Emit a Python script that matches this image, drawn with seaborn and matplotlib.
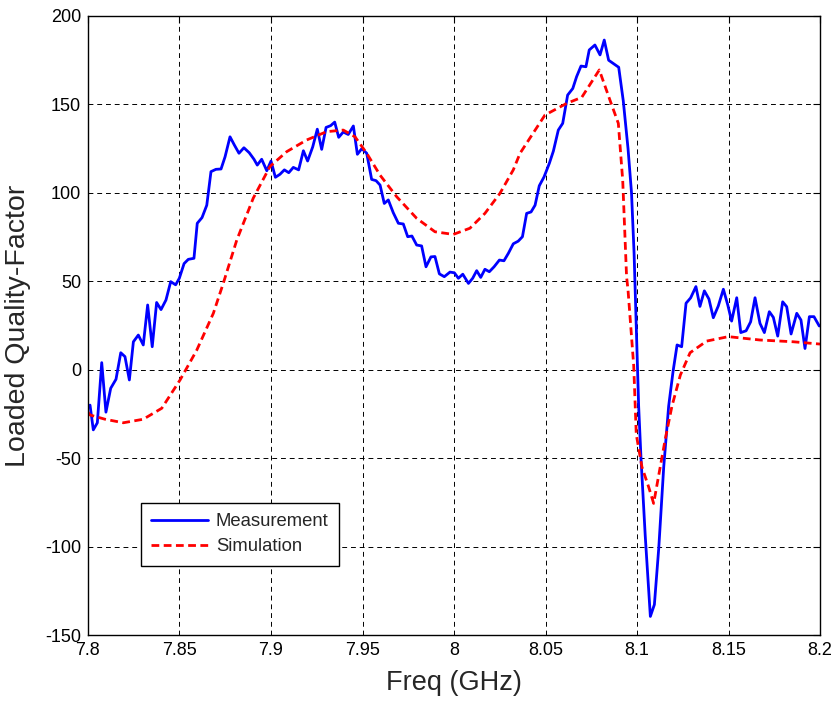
import matplotlib
matplotlib.use("Agg")
import matplotlib.pyplot as plt
import seaborn as sns
import pandas as pd
import numpy as np
from matplotlib.ticker import FixedLocator, FixedFormatter

# ---------------- data ----------------
meas_freq = [7.8011, 7.8029, 7.8051, 7.8075, 7.8098, 7.8124, 7.8153, 7.8179, 7.8202, 7.8226,
             7.8248, 7.8275, 7.8302, 7.8326, 7.8351, 7.8375, 7.8399, 7.8426, 7.8452, 7.8479,
             7.8499, 7.8525, 7.8548, 7.8579, 7.8597, 7.8623, 7.8649, 7.8672, 7.8699, 7.8727,
             7.8749, 7.8776, 7.8800, 7.8825, 7.8852, 7.8881, 7.8907, 7.8925, 7.8949, 7.8977,
             7.9000, 7.9024, 7.9049, 7.9073, 7.9097, 7.9122, 7.9151, 7.9177, 7.9200, 7.9228,
             7.9253, 7.9277, 7.9301, 7.9326, 7.9348, 7.9370, 7.9395, 7.9422, 7.9450, 7.9472,
             7.9496, 7.9523, 7.9550, 7.9574, 7.9596, 7.9619, 7.9641, 7.9668, 7.9696, 7.9723,
             7.9747, 7.9770, 7.9796, 7.9823, 7.9847, 7.9874, 7.9896, 7.9920, 7.9947, 7.9978,
             8.0002, 8.0024, 8.0048, 8.0079, 8.0102, 8.0124, 8.0146, 8.0169, 8.0193, 8.0219,
             8.0248, 8.0273, 8.0297, 8.0324, 8.0351, 8.0374, 8.0397, 8.0421, 8.0443, 8.0466,
             8.0492, 8.0521, 8.0543, 8.0570, 8.0594, 8.0621, 8.0649, 8.0670, 8.0694, 8.0721,
             8.0739, 8.0770, 8.0798, 8.0821, 8.0845, 8.0870, 8.0900, 8.0925, 8.0951, 8.0970,
             8.0984, 8.0996, 8.1009, 8.1022, 8.1045, 8.1073, 8.1095, 8.1119, 8.1146, 8.1173,
             8.1197, 8.1219, 8.1244, 8.1268, 8.1293, 8.1322, 8.1344, 8.1368, 8.1393, 8.1417,
             8.1444, 8.1472, 8.1496, 8.1517, 8.1545, 8.1567, 8.1596, 8.1621, 8.1645, 8.1672,
             8.1696, 8.1723, 8.1745, 8.1769, 8.1796, 8.1818, 8.1842, 8.1873, 8.1896, 8.1918,
             8.1942, 8.1967, 8.1996]
meas_q = [-20, -34, -30, 4, -24, -10.5, -5.4, 9.6, 7.4, -5.8,
          15.8, 19.6, 14, 36.6, 13, 38, 34, 39.4, 49.8, 48,
          51.7, 60, 62.4, 63, 82.8, 86, 93, 112, 113.3, 113.5,
          120.4, 131.7, 127, 122.4, 125.5, 122.7, 119, 115.7, 119, 112.5,
          118, 108.8, 110.5, 113, 111.4, 114.4, 113, 123.8, 118, 126,
          136, 124.6, 137, 138, 140, 131.4, 134.4, 133, 137.8, 121.8,
          125, 122.4, 107.6, 106.9, 104.4, 94, 96, 88.8, 82.8, 82.4,
          75.2, 75.6, 70.5, 70, 58.2, 63.8, 64, 54.2, 52.6, 55.2,
          54.8, 51.7, 54, 48.8, 51.7, 56, 52.2, 56.8, 55.4, 58.2,
          62, 61.6, 65.8, 71.2, 72.7, 75.2, 88.4, 89.2, 93, 104,
          109, 116.7, 123.6, 135.5, 139.3, 155.3, 159, 165.7, 171.7, 171.3,
          180.8, 183.6, 178, 186.4, 175, 173.2, 171, 152, 125, 100,
          66, 25.2, -20.6, -50.4, -93.9, -139.5, -132.8, -100.7, -55, -20.6,
          -1, 14, 13, 37.6, 40.6, 47, 35.8, 44.6, 40, 29.4,
          36, 45.5, 36.6, 27.5, 40.7, 21, 22, 27.1, 40.7, 26.2,
          21, 32.8, 29.6, 19, 38.4, 35.6, 20.2, 31.9, 28.1, 12,
          30, 30, 24.7]

sim_freq = [7.8000, 7.8011, 7.8093, 7.8193, 7.8302, 7.8403, 7.8503, 7.8594, 7.8685, 7.8739,
            7.8813, 7.8903, 7.8995, 7.9086, 7.9195, 7.9304, 7.9395, 7.9459, 7.9523, 7.9596,
            7.9687, 7.9796, 7.9896, 7.9996, 8.0087, 8.0169, 8.0251, 8.0324, 8.0361, 8.0497,
            8.0616, 8.0698, 8.0794, 8.0852, 8.0898, 8.0922, 8.0943, 8.0951, 8.0982, 8.0996,
            8.1027, 8.1064, 8.1091, 8.1119, 8.1155, 8.1191, 8.1237, 8.1290, 8.1381, 8.1499,
            8.1672, 8.1854, 8.2000]
sim_q = [-24, -25.6, -28, -30, -28, -21.8, -5.8, 11, 31.9, 48.8,
         73.3, 97, 115, 123.3, 129.9, 134.6, 135.5, 131.7, 122.4, 110,
         97.8, 85.6, 78, 76.5, 80, 88.4, 99.7, 113, 122.4, 144,
         150.6, 154, 169.5, 152.5, 139.3, 107, 52.6, 45, 2.3, -36.6,
         -55, -66.4, -75.6, -59.5, -38.9, -20.6, -3, 9.6, 16.2, 18.7,
         16.8, 15.8, 14.5]

x_ticks = [7.8, 7.85, 7.9, 7.95, 8.0, 8.05, 8.1, 8.15, 8.2]
x_tick_labels = ["7.8", "7.85", "7.9", "7.95", "8", "8.05", "8.1", "8.15", "8.2"]
y_ticks = [-150, -100, -50, 0, 50, 100, 150, 200]
y_tick_labels = ["-150", "-100", "-50", "0", "50", "100", "150", "200"]

# ---------------- plot ----------------
sns.set_style("white")
plt.rcParams["font.family"] = ["Liberation Sans", "DejaVu Sans"]

fig = plt.figure(figsize=(8.36, 7.02), dpi=100)
ax = fig.add_axes([88 / 836, 1 - 635 / 702, (820 - 88) / 836, (635 - 16) / 702])

df_m = pd.DataFrame({"freq": meas_freq, "q": meas_q})
df_s = pd.DataFrame({"freq": sim_freq, "q": sim_q})

sns.lineplot(data=df_m, x="freq", y="q", ax=ax, color="#0000FF", lw=2.0,
             label="Measurement", sort=False, estimator=None)
sns.lineplot(data=df_s, x="freq", y="q", ax=ax, color="#FF0000", lw=2.0,
             label="Simulation", sort=False, estimator=None)
ax.lines[-1].set_linestyle((0, (2.8, 1.6)))

ax.set_xlim(7.8, 8.2)
ax.set_ylim(-150, 200)
ax.xaxis.set_major_locator(FixedLocator(x_ticks))
ax.xaxis.set_major_formatter(FixedFormatter(x_tick_labels))
ax.yaxis.set_major_locator(FixedLocator(y_ticks))
ax.yaxis.set_major_formatter(FixedFormatter(y_tick_labels))

ax.grid(True, color="black", linestyle=(0, (5, 4)), linewidth=0.7)
ax.tick_params(direction="in", length=5, width=0.8, top=True, right=True,
               labelsize=13, pad=5, colors="black")
for sp in ax.spines.values():
    sp.set_color("black")
    sp.set_linewidth(1.0)
    sp.set_visible(True)

ax.set_xlabel("Freq (GHz)", fontsize=19.5, labelpad=8)
ax.set_ylabel("Loaded Quality-Factor", fontsize=20.5, labelpad=10)

leg = ax.legend(loc="upper left", bbox_to_anchor=((141 - 88) / 732, (635 - 503) / 619),
                borderaxespad=0, fontsize=13.3, frameon=True, fancybox=False,
                framealpha=1, edgecolor="black", handlelength=3.1, handletextpad=0.4,
                borderpad=0.55, labelspacing=0.45)
leg.get_frame().set_linewidth(1.0)

fig.savefig("out.png", dpi=100, facecolor="white")
